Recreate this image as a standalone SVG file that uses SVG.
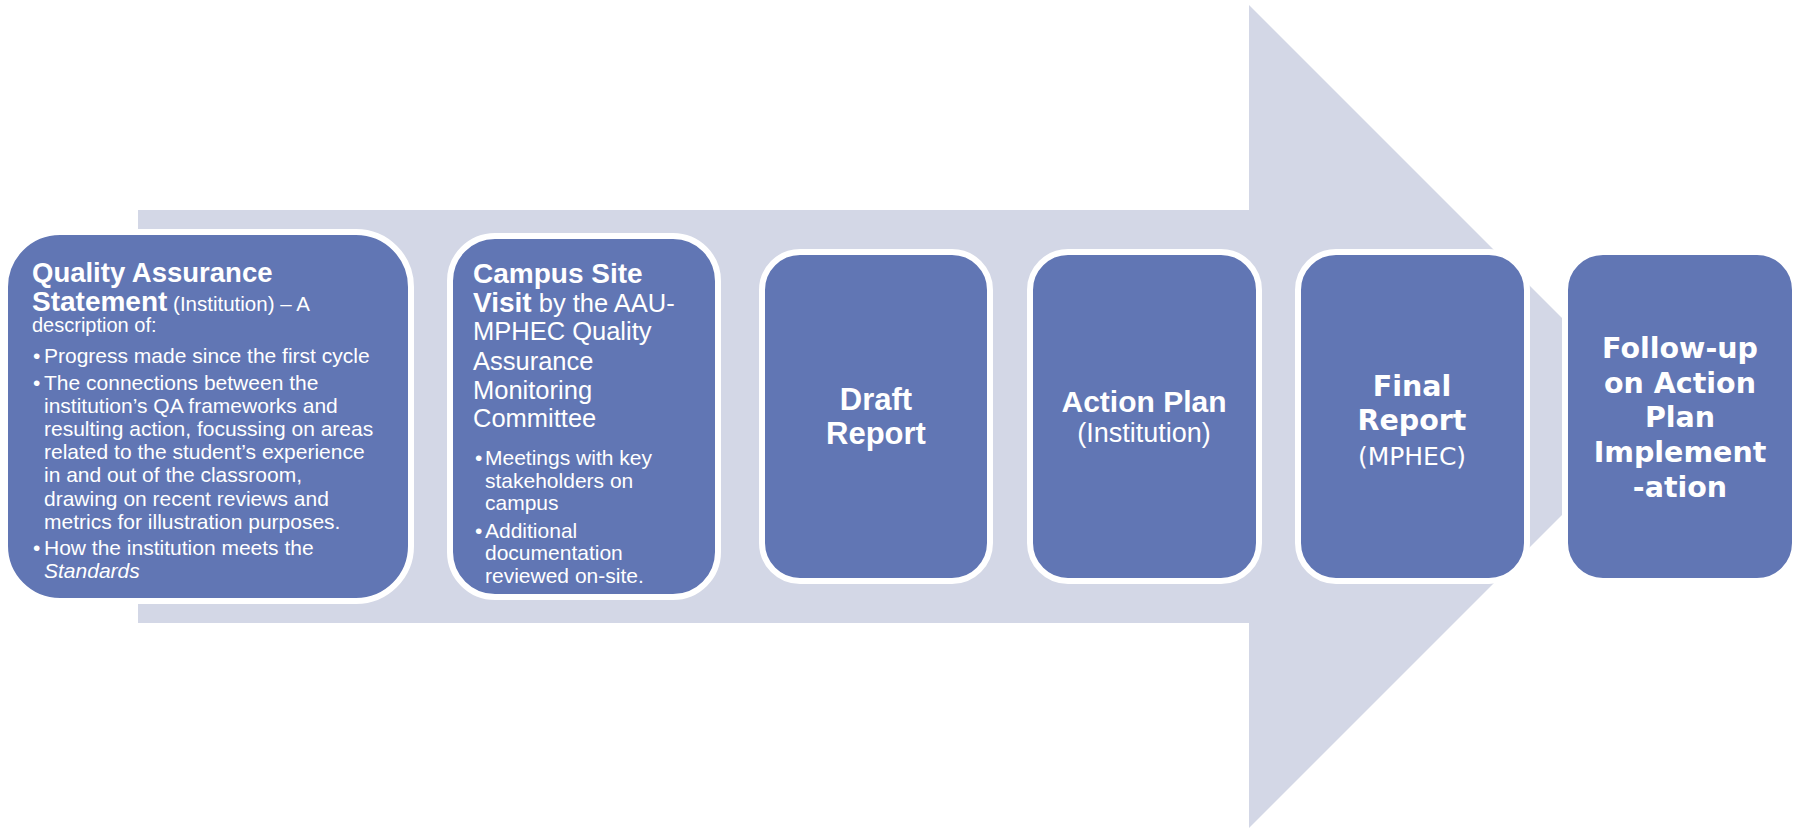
<svg xmlns="http://www.w3.org/2000/svg" width="1800" height="829" viewBox="0 0 1800 829">
<style>
.box{fill:#6176B4;stroke:#FFFFFF;stroke-width:6}
.t{fill:#FFFFFF;font-family:"Liberation Sans",Arial,sans-serif}
.b{font-weight:bold}
.v{fill:#FFFFFF;font-family:"DejaVu Sans",Verdana,sans-serif}
.c{text-anchor:middle}
</style>
<rect width="1800" height="829" fill="#FFFFFF"/>
<g id="connectors">
<polygon points="138,210 1249,210 1249,5 1660.5,416.5 1249,828 1249,623 138,623" fill="#D3D7E6"/>
</g>
<g id="node1">
<rect class="box" x="5" y="232" width="406" height="369" rx="55" ry="55"/>
<text class="t b" x="32" y="282" font-size="27.5">Quality Assurance</text>
<text class="t" x="32" y="311" font-size="20.5"><tspan class="b" font-size="28">Statement</tspan> (Institution) – A</text>
<text class="t" x="32" y="332" font-size="20">description of:</text>
<g class="t" font-size="21">
<text x="33" y="363">•</text><text x="44" y="363">Progress made since the first cycle</text>
<text x="33" y="390">•</text><text x="44" y="390">The connections between the</text>
<text x="44" y="413">institution’s QA frameworks and</text>
<text x="44" y="436">resulting action, focussing on areas</text>
<text x="44" y="459">related to the student’s experience</text>
<text x="44" y="482">in and out of the classroom,</text>
<text x="44" y="506">drawing on recent reviews and</text>
<text x="44" y="529">metrics for illustration purposes.</text>
<text x="33" y="555">•</text><text x="44" y="555">How the institution meets the</text>
<text x="44" y="578" font-style="italic">Standards</text>
</g>
</g>
<g id="node2">
<rect class="box" x="450" y="236" width="268" height="361" rx="45" ry="45"/>
<text class="t b" x="473" y="283" font-size="28">Campus Site</text>
<text class="t" x="473" y="312" font-size="25.5"><tspan class="b" font-size="28">Visit</tspan> by the AAU-</text>
<text class="t" x="473" y="340" font-size="25.5">MPHEC Quality</text>
<text class="t" x="473" y="370" font-size="25.5">Assurance</text>
<text class="t" x="473" y="399" font-size="25.5">Monitoring</text>
<text class="t" x="473" y="427" font-size="25.5">Committee</text>
<g class="t" font-size="21">
<text x="475" y="465">•</text><text x="485" y="465">Meetings with key</text>
<text x="485" y="488">stakeholders on</text>
<text x="485" y="510">campus</text>
<text x="475" y="538">•</text><text x="485" y="538">Additional</text>
<text x="485" y="560">documentation</text>
<text x="485" y="583">reviewed on-site.</text>
</g>
</g>
<g id="node3">
<rect class="box" x="762" y="252" width="228" height="329" rx="38" ry="38"/>
<text class="t b c" x="876" y="410" font-size="31">Draft</text>
<text class="t b c" x="876" y="444" font-size="31">Report</text>
</g>
<g id="node4">
<rect class="box" x="1030" y="252" width="229" height="329" rx="38" ry="38"/>
<text class="t b c" x="1144" y="412" font-size="30">Action Plan</text>
<text class="t c" x="1144" y="442" font-size="27">(Institution)</text>
</g>
<g id="node5">
<rect class="box" x="1298" y="252" width="229" height="329" rx="38" ry="38"/>
<text class="v b c" x="1412" y="396" font-size="28.5">Final</text>
<text class="v b c" x="1412" y="430" font-size="28.5">Report</text>
<text class="v c" x="1412" y="465" font-size="25">(MPHEC)</text>
</g>
<g id="node6">
<rect class="box" x="1565" y="252" width="230" height="329" rx="38" ry="38"/>
<text class="v b c" x="1680" y="358" font-size="28.5">Follow-up</text>
<text class="v b c" x="1680" y="393" font-size="28.5">on Action</text>
<text class="v b c" x="1680" y="427" font-size="28.5">Plan</text>
<text class="v b c" x="1680" y="462" font-size="28.5">Implement</text>
<text class="v b c" x="1680" y="497" font-size="28.5">-ation</text>
</g>
</svg>
